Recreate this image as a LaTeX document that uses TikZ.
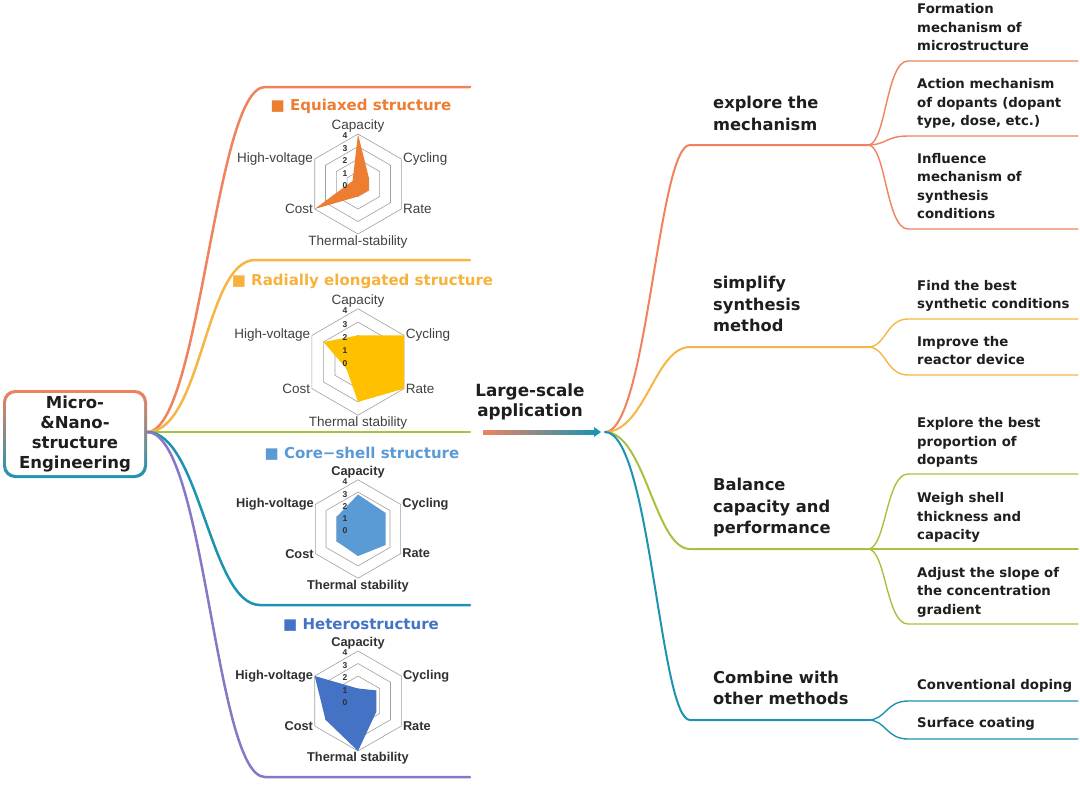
\documentclass[tikz,border=0pt]{standalone}
\usepackage{fontspec}
\setmainfont{Liberation Sans}
\newfontfamily\dejavu{DejaVu Sans}
\usepackage{tikz}
\usetikzlibrary{backgrounds}
\usepackage{xcolor}
\definecolor{coral(web)}{rgb}{0.94, 0.51, 0.37}
\definecolor{amber(web)}{rgb}{0.97, 0.71, 0.27}
\definecolor{lime(web)}{rgb}{0.66, 0.76, 0.25}
\definecolor{teal(web)}{rgb}{0.11, 0.58, 0.69}
\definecolor{lavender(web)}{rgb}{0.53, 0.47, 0.78}
\definecolor{eqorange}{HTML}{ED7D31}
\definecolor{gold(web)}{HTML}{FFC000}
\definecolor{titleamber}{HTML}{F8B13A}
\definecolor{csblue}{HTML}{5B9BD5}
\definecolor{htblue}{HTML}{4472C4}
\definecolor{labelgray}{HTML}{404040}
\definecolor{labeldark}{HTML}{303030}
\definecolor{textblack}{HTML}{1E1E1E}

\tikzset{
  branch/.style={line width=2.5pt, line cap=round},
  mainbranch/.style={line width=2pt, line cap=round},
  subbranch/.style={line width=1.4pt, line cap=round},
  midtext/.style={font=\dejavu\bfseries\fontsize{16.3}{21.5}\selectfont,
    align=left, anchor=north west, inner sep=0pt, text=textblack},
  leaftext/.style={font=\dejavu\bfseries\fontsize{13.3}{18.5}\selectfont,
    align=left, anchor=north west, inner sep=0pt, text=textblack},
  ringline/.style={draw=gray!75, line width=0.6pt},
  axislabel/.style={font=\fontsize{13.5}{15}\selectfont, text=labelgray, inner sep=1.5pt},
  axislabelbold/.style={font=\bfseries\fontsize{12.8}{15}\selectfont, text=labeldark, inner sep=1.5pt},
  ticknum/.style={font=\bfseries\fontsize{8.5}{9}\selectfont, text=labeldark, inner sep=0pt},
  charttitle/.style={font=\dejavu\bfseries\fontsize{15}{18}\selectfont, anchor=base, inner sep=0pt},
}

\begin{document}
\begin{tikzpicture}[x=1pt,y=-1pt]
\useasboundingbox (0,0) rectangle (1080,785);

%% the root box
\node[font=\dejavu\bfseries\fontsize{16.5}{20}\selectfont, align=center, text=textblack] (root) at (75,434)
  {Micro-\\\&Nano-\\structure\\Engineering};
\begin{scope}[on background layer]
  \shade[top color=coral(web), middle color=amber(web)!60!lime(web), bottom color=teal(web), rounded corners=12pt]
    (3,390) rectangle (147,478);
  \fill[white, rounded corners=10pt] (6,393) rectangle (144,475);
\end{scope}

% left branches: end points of the curves and of the lines
\coordinate (rootout) at (147,432);
\coordinate (eq-l) at (265,87);   \coordinate (eq-r) at (470,87);
\coordinate (ra-l) at (255,260);  \coordinate (ra-r) at (470,260);
\coordinate (mid-r) at (470,432);
\coordinate (cs-l) at (260,605);  \coordinate (cs-r) at (470,605);
\coordinate (ht-l) at (265,777);  \coordinate (ht-r) at (470,777);

\draw[branch, coral(web)] (rootout) .. controls +(53,0) and +(-50,0) .. (eq-l) -- (eq-r);
\draw[branch, amber(web)] (rootout) .. controls +(55,0) and +(-50,0) .. (ra-l) -- (ra-r);
\draw[branch, lime(web)] (rootout) -- (mid-r);
\draw[branch, teal(web)] (rootout) .. controls +(53,0) and +(-50,0) .. (cs-l) -- (cs-r);
\draw[branch, lavender(web)] (rootout) .. controls +(58,0) and +(-50,0) .. (ht-l) -- (ht-r);

%% the four radar charts
\foreach \i/\cy/\u/\col/\lstyle/\thermal/\a/\b/\c/\d/\e/\f in {
  1/184/12.5/eqorange/axislabel/Thermal-stability/4/1/1/1/4/0.5,
  2/362/13.3/gold(web)/axislabel/Thermal stability/2/4/4/3/1/3,
  3/529/12.3/csblue/axislabelbold/Thermal stability/2.8/2.6/2.6/2.2/2/2,
  4/701/12.5/htblue/axislabelbold/Thermal stability/1/1.7/1.7/4/3/4}
{
  \begin{scope}[shift={(358,\cy)}, yscale=-1]
    \foreach \r in {1,...,4}
      \draw[ringline] (90:\r*\u) -- (30:\r*\u) -- (-30:\r*\u) -- (-90:\r*\u)
        -- (-150:\r*\u) -- (150:\r*\u) -- cycle;
    \fill[\col] (90:\a*\u) -- (30:\b*\u) -- (-30:\c*\u) -- (-90:\d*\u)
      -- (-150:\e*\u) -- (150:\f*\u) -- cycle;
    \foreach \r in {0,...,4}
      \node[ticknum] (tick\i\r) at (-13,\r*\u-2) {\r};
    \node[\lstyle, anchor=south] (cap\i) at (90:4*\u) {Capacity};
    \node[\lstyle, anchor=west] (cyc\i) at (30:4*\u) {Cycling};
    \node[\lstyle, anchor=west] (rate\i) at (-30:4*\u) {Rate};
    \node[\lstyle, anchor=north] (therm\i) at (-90:4*\u) {\thermal};
    \node[\lstyle, anchor=east] (cost\i) at (-150:4*\u) {Cost};
    \node[\lstyle, anchor=east] (hv\i) at (150:4*\u) {High-voltage};
  \end{scope}
}

% chart titles
\node[charttitle, text=eqorange] (t-eq) at (361,110.7) {■ Equiaxed structure};
\node[charttitle, text=titleamber] (t-ra) at (362.5,285.7) {■ Radially elongated structure};
\node[charttitle, text=csblue] (t-cs) at (362,458.3) {■ Core−shell structure};
\node[charttitle, text=htblue] (t-ht) at (361,629) {■ Heterostructure};

%% the arrow in the middle
\node[font=\dejavu\bfseries\fontsize{16.8}{20}\selectfont, align=center, anchor=north, inner sep=0pt, text=textblack]
  (lsa) at (530,384) {Large-scale\\application};
\coordinate (arr-l) at (483,430);
\coordinate (arr-r) at (594,434);
\coordinate (hub) at (605,432);
\shade[left color=coral(web), middle color=amber(web)!70!lime(web), right color=teal(web)] (arr-l) rectangle (arr-r);
\fill[teal(web)] (arr-r) ++(0,3) -- ++(7,-5) -- ++(-7,-5) -- cycle;

%% right side
\coordinate (mech-l) at (690,145); \coordinate (mech-r) at (868,145);
\coordinate (simp-l) at (690,347); \coordinate (simp-r) at (868,347);
\coordinate (bal-l) at (690,549);  \coordinate (bal-r) at (868,549);
\coordinate (comb-l) at (690,720); \coordinate (comb-r) at (868,720);

\draw[mainbranch, coral(web)] (hub) .. controls +(42,0) and +(-32,0) .. (mech-l) -- (mech-r);
\draw[mainbranch, amber(web)] (hub) .. controls +(40,0) and +(-35,0) .. (simp-l) -- (simp-r);
\draw[mainbranch, lime(web)] (hub) .. controls +(40,0) and +(-35,0) .. (bal-l) -- (bal-r);
\draw[mainbranch, teal(web)] (hub) .. controls +(45,0) and +(-30,0) .. (comb-l) -- (comb-r);

\node[midtext] (mech) at (713,96) {explore the\\mechanism};
\node[midtext] (simp) at (713,276) {simplify\\synthesis\\method};
\node[midtext] (bal) at (713,478.3) {Balance\\capacity and\\performance};
\node[midtext] (comb) at (713,670.7) {Combine with\\other methods};

% leaves: name/parent/colour/line y
\foreach \leaf/\parent/\col/\ly in {form/mech/coral(web)/61, act/mech/coral(web)/136, infl/mech/coral(web)/229,
  find/simp/amber(web)/319, impr/simp/amber(web)/375,
  expl/bal/lime(web)/474, weigh/bal/lime(web)/549, adj/bal/lime(web)/624,
  conv/comb/teal(web)/701, surf/comb/teal(web)/739}
{
  \coordinate (\leaf-l) at (908,\ly);
  \coordinate (\leaf-r) at (1078,\ly);
  \draw[subbranch, \col] (\parent-r) .. controls +(18,0) and +(-22,0) .. (\leaf-l) -- (\leaf-r);
}

\node[leaftext] (form) at (917,3.5) {Formation\\mechanism of\\microstructure};
\node[leaftext] (act) at (917,78.3) {Action mechanism\\of dopants (dopant\\type, dose, etc.)};
\node[leaftext] (infl) at (917,153) {Influence\\mechanism of\\synthesis\\conditions};
\node[leaftext] (find) at (917,280) {Find the best\\synthetic conditions};
\node[leaftext] (impr) at (917,336) {Improve the\\reactor device};
\node[leaftext] (expl) at (917,417.3) {Explore the best\\proportion of\\dopants};
\node[leaftext] (weigh) at (917,492.3) {Weigh shell\\thickness and\\capacity};
\node[leaftext] (adj) at (917,566.7) {Adjust the slope of\\the concentration\\gradient};
\node[leaftext] (conv) at (917,679.3) {Conventional doping};
\node[leaftext] (surf) at (917,717.3) {Surface coating};

\end{tikzpicture}
\end{document}
